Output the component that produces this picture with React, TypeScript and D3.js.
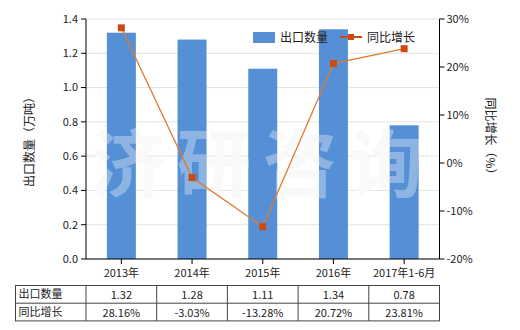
import React from "react";
import * as d3 from "d3";

const categories = ["2013年", "2014年", "2015年", "2016年", "2017年1-6月"];
const exportQty = [1.32, 1.28, 1.11, 1.34, 0.78];
const yoyGrowth = [28.16, -3.03, -13.28, 20.72, 23.81];
const leftTicks = [0, 0.2, 0.4, 0.6, 0.8, 1.0, 1.2, 1.4];
const rightTicks = [-20, -10, 0, 10, 20, 30];
const qtyLabels = ["1.32", "1.28", "1.11", "1.34", "0.78"];
const growthLabels = ["28.16%", "-3.03%", "-13.28%", "20.72%", "23.81%"];
const watermark = ["济", "研", "咨", "询"];

const W = 520, H = 330;
const L = 86, R = 439.5, T = 19, B = 259;
const font = "'Noto Sans CJK SC', 'Noto Sans', sans-serif";
const barColor = "#5590D6";
const lineColor = "#E07A30";
const markColor = "#CC4B10";

export default function App() {
  const x = d3.scaleBand().domain(categories).range([L, R]).paddingInner(0.59).paddingOuter(0.295);
  const xc = (c: string) => (x(c) as number) + x.bandwidth() / 2;
  const yL = d3.scaleLinear().domain([0, 1.4]).range([B, T]);
  const yR = d3.scaleLinear().domain([-20, 30]).range([B, T]);
  const line = d3.line<number>().x((_, i) => xc(categories[i])).y((d) => yR(d));
  const colW = (R - L) / categories.length;
  const tableTop = 285.5, rowH = 17.7, tableLeft = 15.5;
  const wmX = (i: number) => 128 + i * 86;

  return (
    <svg width={W} height={H} style={{ position: "absolute", left: 0, top: 0 }} fontFamily={font}>
      <rect width={W} height={H} fill="#fff" />
      {leftTicks.map((t) => (
        <line key={t} x1={L} x2={R} y1={yL(t)} y2={yL(t)} stroke="#e3e3e3" strokeWidth={1} />
      ))}
      {watermark.map((ch, i) => (
        <text key={"b" + i} x={wmX(i)} y={191} textAnchor="middle" fontSize={74} fontWeight="bold" fill="#f6f6f6">{ch}</text>
      ))}
      {categories.map((c, i) => (
        <rect key={c} x={x(c)} y={yL(exportQty[i])} width={x.bandwidth()} height={B - yL(exportQty[i])} fill={barColor} />
      ))}
      {watermark.map((ch, i) => (
        <text key={"t" + i} x={wmX(i)} y={191} textAnchor="middle" fontSize={74} fontWeight="bold" fill="#ffffff" fillOpacity={0.33}>{ch}</text>
      ))}
      <path d={line(yoyGrowth) || ""} fill="none" stroke={lineColor} strokeWidth={1.3} />
      {yoyGrowth.map((v, i) => (
        <rect key={i} x={xc(categories[i]) - 3.5} y={yR(v) - 3.5} width={7} height={7} fill={markColor} />
      ))}
      {/* left axis */}
      <line x1={L} x2={L} y1={T} y2={B} stroke="#000" />
      {leftTicks.map((t) => (
        <g key={t}>
          <line x1={L - 5} x2={L} y1={yL(t)} y2={yL(t)} stroke="#000" />
          <text x={L - 8} y={yL(t)} dy="0.35em" textAnchor="end" fontSize={11} fill="#222">{t.toFixed(1)}</text>
        </g>
      ))}
      {/* right axis */}
      <line x1={R} x2={R} y1={T} y2={B} stroke="#000" />
      {rightTicks.map((t) => (
        <g key={t}>
          <line x1={R} x2={R + 5} y1={yR(t)} y2={yR(t)} stroke="#000" />
          <text x={R + 7} y={yR(t)} dy="0.35em" textAnchor="start" fontSize={11} fill="#222">{t}%</text>
        </g>
      ))}
      {/* bottom axis */}
      <line x1={L} x2={R} y1={B} y2={B} stroke="#000" />
      {categories.map((c) => (
        <g key={c}>
          <line x1={xc(c)} x2={xc(c)} y1={B} y2={B + 5} stroke="#000" />
          <text x={xc(c)} y={273} dy="0.35em" textAnchor="middle" fontSize={11} fill="#222">{c}</text>
        </g>
      ))}
      {/* axis titles */}
      <text transform={`translate(30,${(T + B) / 2}) rotate(-90)`} textAnchor="middle" dy="0.35em" fontSize={12} fill="#222">出口数量（万吨）</text>
      <text transform={`translate(490,${(T + B) / 2}) rotate(90)`} textAnchor="middle" dy="0.35em" fontSize={12} fill="#222">同比增长（%）</text>
      {/* legend */}
      <rect x={253} y={32} width={22} height={11} fill={barColor} />
      <text x={280} y={37.5} dy="0.35em" fontSize={12} fill="#222">出口数量</text>
      <line x1={340} x2={362} y1={37} y2={37} stroke={markColor} strokeWidth={2} />
      <rect x={348} y={34} width={6} height={6} fill={markColor} />
      <text x={367} y={37.5} dy="0.35em" fontSize={12} fill="#222">同比增长</text>
      {/* table */}
      <g stroke="#444" strokeWidth={1} fill="none">
        <rect x={tableLeft} y={tableTop} width={R - tableLeft} height={rowH * 2} />
        <line x1={tableLeft} x2={R} y1={tableTop + rowH} y2={tableTop + rowH} />
        <line x1={L} x2={L} y1={tableTop} y2={tableTop + rowH * 2} />
        {categories.slice(1).map((c, i) => (
          <line key={c} x1={L + colW * (i + 1)} x2={L + colW * (i + 1)} y1={tableTop} y2={tableTop + rowH * 2} />
        ))}
      </g>
      <text x={tableLeft + 3} y={tableTop + rowH / 2} dy="0.35em" fontSize={11} fill="#222">出口数量</text>
      <text x={tableLeft + 3} y={tableTop + rowH * 1.5} dy="0.35em" fontSize={11} fill="#222">同比增长</text>
      {categories.map((c, i) => (
        <g key={c}>
          <text x={L + colW * (i + 0.5)} y={tableTop + rowH / 2 + 1} dy="0.35em" textAnchor="middle" fontSize={11} fill="#222">{qtyLabels[i]}</text>
          <text x={L + colW * (i + 0.5)} y={tableTop + rowH * 1.5 + 1} dy="0.35em" textAnchor="middle" fontSize={11} fill="#222">{growthLabels[i]}</text>
        </g>
      ))}
    </svg>
  );
}
